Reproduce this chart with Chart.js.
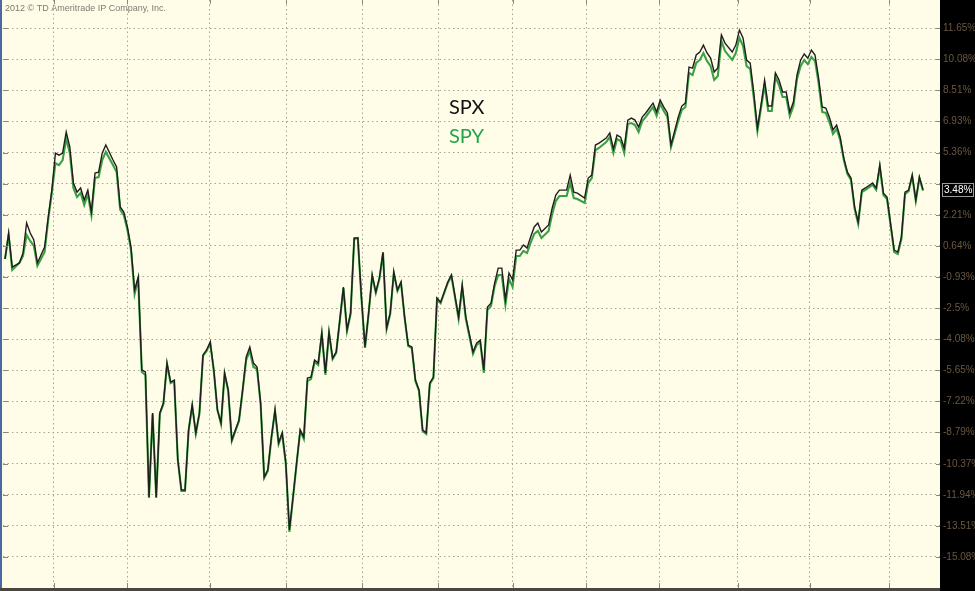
<!DOCTYPE html>
<html lang="en">
  <head>
    <meta charset="UTF-8" />
    <title>SPX vs SPY</title>
    <script src="https://cdn.jsdelivr.net/npm/chart.js"></script>
    <style>
      html,
      body {
        margin: 0;
        padding: 0;
        background: #fffde8;
      }
      canvas {
        display: block;
      }
    </style>
  </head>
  <body>
    <canvas id="chart" width="975" height="591"></canvas>
  </body>
  <script>
    // trading day index (from start of period)
    const days = [
      0, 1, 2, 4, 5, 6, 7, 8, 9, 11,
      12, 13, 14, 15, 16, 17, 18, 19, 20, 21,
      22, 23, 24, 25, 26, 27, 28, 30, 31, 32,
      33, 34, 35, 36, 37, 38, 39, 40, 41, 42,
      43, 44, 45, 46, 47, 48, 49, 50, 51, 52,
      53, 54, 55, 56, 57, 58, 59, 60, 61, 62,
      63, 64, 65, 66, 67, 68, 69, 70, 71, 72,
      73, 74, 75, 76, 77, 78, 79, 80, 81, 82,
      83, 84, 85, 86, 87, 88, 89, 90, 91, 92,
      93, 94, 95, 96, 97, 98, 99, 100, 101, 102,
      103, 104, 105, 106, 107, 108, 109, 110, 111, 112,
      113, 114, 115, 116, 117, 118, 119, 120, 121, 123,
      124, 126, 127, 128, 130, 131, 132, 133, 134, 135,
      136, 137, 138, 139, 140, 141, 142, 143, 144, 145,
      146, 147, 148, 149, 151, 152, 153, 154, 156, 157,
      158, 159, 161, 162, 163, 164, 165, 167, 168, 169,
      170, 171, 172, 173, 174, 175, 176, 177, 178, 179,
      180, 181, 182, 183, 184, 185, 187, 188, 189, 190,
      191, 192, 193, 194, 195, 196, 197, 198, 199, 200,
      202, 203, 204, 205, 206, 207, 208, 209, 210, 211,
      212, 213, 214, 215, 216, 217, 218, 219, 220, 221,
      222, 223, 224, 225, 226, 227, 228, 229, 230, 231,
      232, 233, 234, 235, 236, 237, 238, 239, 241, 242,
      243, 244, 245, 247, 248, 249, 250, 251, 252, 253,
      254, 255,
    ];

    // % change
    const spx = [
      -0.02, 1.29, -0.43, -0.22, 0.28, 1.8, 1.29, 0.94, -0.22, 0.58,
      2.1, 3.46, 5.33, 5.23, 5.33, 6.4, 5.64, 3.82, 3.36, 3.57,
      2.96, 3.46, 2.35, 4.32, 4.37, 5.33, 5.74, 4.98, 4.63, 2.61,
      2.35, 1.6, 0.58, -1.59, -0.93, -5.63, -5.73, -12.05, -7.8, -12.05,
      -7.8, -7.3, -5.28, -6.24, -6.14, -10.18, -11.7, -11.7, -8.66, -7.4,
      -8.81, -7.8, -4.87, -4.62, -4.22, -5.63, -7.65, -8.31, -5.78, -6.64,
      -9.17, -8.66, -8.16, -6.64, -4.97, -4.47, -5.28, -5.48, -7.3, -11.04,
      -10.68, -9.02, -7.65, -9.32, -8.81, -10.33, -13.72, -12.05, -10.33, -8.66,
      -9.02, -6.04, -5.99, -5.13, -5.28, -3.76, -5.78, -3.71, -5.03, -4.72,
      -3.1, -1.44, -3.61, -2.75, 1.04, 1.04, -1.94, -4.47, -2.75, -0.83,
      -1.69, -0.98, 0.33, -3.51, -2.75, -0.68, -1.59, -1.18, -2.95, -4.37,
      -4.47, -6.14, -6.64, -8.66, -8.81, -6.29, -5.99, -1.99, -2.2, -1.18,
      -0.83, -2.95, -1.34, -2.95, -4.72, -4.27, -4.12, -5.63, -2.45, -2.25,
      -1.24, -0.48, -0.48, -2.09, -0.73, -1.08, 0.43, 0.43, 0.69, 0.53,
      1.09, 1.6, 1.8, 1.34, 1.7, 2.56, 3.21, 3.46, 3.46, 4.22,
      3.36, 3.31, 3.06, 4.07, 4.22, 5.74, 5.84, 6.09, 6.35, 5.54,
      6.24, 6.14, 5.59, 7.0, 7.1, 7.0, 6.65, 7.15, 7.36, 7.61,
      7.86, 7.41, 8.01, 7.66, 7.36, 5.74, 7.15, 7.71, 7.86, 9.68,
      9.63, 10.29, 10.44, 10.79, 10.39, 10.13, 9.43, 9.63, 11.3, 10.89,
      10.44, 10.79, 11.55, 11.15, 10.03, 9.88, 8.37, 6.6, 7.76, 9.02,
      7.71, 7.71, 9.38, 9.02, 8.42, 8.42, 7.41, 7.91, 9.28, 10.03,
      10.34, 10.13, 10.54, 10.29, 9.12, 7.66, 7.61, 7.15, 6.5, 6.75,
      6.14, 5.08, 4.37, 4.07, 2.61, 1.85, 3.46, 3.57, 3.82, 3.57,
      4.73, 3.31, 3.11, 0.43, 0.33, 1.09, 3.36, 3.46, 4.22, 2.96,
      4.12, 3.48,
    ];

    const spy = [
      -0.02, 1.19, -0.58, -0.22, 0.13, 1.19, 0.89, 0.64, -0.37, 0.33,
      1.95, 3.31, 4.82, 4.72, 4.98, 6.05, 5.34, 3.57, 3.11, 3.32,
      2.71, 3.26, 2.2, 4.07, 4.12, 4.98, 5.39, 4.73, 4.38, 2.46,
      2.2, 1.45, 0.43, -1.79, -1.03, -5.73, -5.88, -12.1, -7.85, -12.1,
      -7.85, -7.35, -5.33, -6.29, -6.19, -10.18, -11.75, -11.75, -8.71, -7.45,
      -8.86, -7.85, -4.92, -4.67, -4.27, -5.68, -7.65, -8.36, -5.83, -6.69,
      -9.22, -8.71, -8.21, -6.69, -5.12, -4.67, -5.48, -5.58, -7.35, -11.09,
      -10.73, -9.07, -7.7, -9.37, -8.86, -10.38, -13.82, -12.1, -10.38, -8.71,
      -9.12, -6.19, -6.09, -5.23, -5.38, -3.81, -5.88, -3.76, -5.08, -4.77,
      -3.15, -1.49, -3.66, -2.8, 0.99, 1.04, -1.99, -4.52, -2.8, -0.88,
      -1.74, -1.03, 0.28, -3.56, -2.8, -0.73, -1.64, -1.23, -3.0, -4.42,
      -4.52, -6.19, -6.69, -8.71, -8.86, -6.34, -6.04, -2.04, -2.25, -1.23,
      -0.88, -3.05, -1.44, -3.05, -4.82, -4.37, -4.22, -5.78, -2.6, -2.4,
      -1.39, -0.83, -0.83, -2.34, -1.03, -1.43, 0.13, 0.13, 0.39, 0.28,
      0.79, 1.25, 1.4, 1.04, 1.4, 2.26, 2.91, 3.16, 3.16, 3.82,
      3.06, 3.01, 2.81, 3.82, 4.07, 5.49, 5.59, 5.89, 6.15, 5.34,
      6.04, 5.94, 5.34, 6.8, 6.85, 6.75, 6.4, 6.95, 7.16, 7.41,
      7.66, 7.21, 7.81, 7.46, 7.16, 5.64, 6.95, 7.51, 7.66, 9.38,
      9.28, 9.89, 10.04, 10.39, 9.99, 9.73, 9.03, 9.23, 11.0, 10.49,
      10.04, 10.39, 11.15, 10.75, 9.73, 9.58, 8.12, 6.45, 7.61, 8.77,
      7.46, 7.46, 9.18, 8.77, 8.17, 8.17, 7.21, 7.71, 9.08, 9.73,
      10.04, 9.83, 10.19, 9.99, 8.87, 7.41, 7.36, 6.9, 6.3, 6.55,
      5.99, 4.98, 4.27, 3.97, 2.51, 1.75, 3.36, 3.47, 3.72, 3.47,
      4.63, 3.21, 3.01, 0.33, 0.23, 0.99, 3.26, 3.41, 4.17, 2.91,
      4.07, 3.43,
    ];

    // month boundaries (trading days)
    const monthTicks = [13.6, 33.9, 56.9, 78.1, 99.2, 120.3, 141.1, 161.4, 181.7, 203.6, 223.6, 245.6];

    const yTicks = [
      11.65, 10.08, 8.51, 6.93, 5.36, 3.79, 2.21, 0.64, -0.93, -2.5,
      -4.08, -5.65, -7.22, -8.79, -10.37, -11.94, -13.51, -15.08,
    ];

    const seriesNames = ["SPX", "SPY"];
    const copyright = "2012 \u00a9 TD Ameritrade IP Company, Inc.";
    const lastValue = spx[spx.length - 1];

    const decor = {
      id: "decor",
      beforeDraw(chart) {
        const { ctx, width, height, chartArea: a } = chart;
        ctx.save();
        ctx.fillStyle = "#fffde8";
        ctx.fillRect(0, 0, width, height);
        ctx.fillStyle = "#000";
        ctx.fillRect(a.right, 0, width - a.right, height);
        ctx.fillStyle = "#4a68a6";
        ctx.fillRect(0, 0, 2, height);
        ctx.restore();
      },
      afterDraw(chart) {
        const { ctx, width, height, chartArea: a, scales } = chart;
        ctx.save();

        // bottom border
        ctx.fillStyle = "#4b4640";
        ctx.fillRect(0, a.bottom, a.right, height - a.bottom);

        // small solid ticks on the grid lines
        ctx.strokeStyle = "#8a877c";
        ctx.lineWidth = 1;
        ctx.beginPath();
        monthTicks.forEach((d) => {
          const x = Math.round(scales.x.getPixelForValue(d)) + 0.5;
          ctx.moveTo(x, a.top);
          ctx.lineTo(x, a.top + 4);
          ctx.moveTo(x, a.bottom - 5);
          ctx.lineTo(x, a.bottom);
        });
        yTicks.forEach((v) => {
          const y = Math.round(scales.y.getPixelForValue(v)) + 0.5;
          ctx.moveTo(a.left, y);
          ctx.lineTo(a.left + 5, y);
          ctx.moveTo(a.right - 4, y);
          ctx.lineTo(a.right, y);
        });
        ctx.stroke();

        // copyright
        ctx.fillStyle = "#7d7b72";
        ctx.font = '9px "Liberation Sans", Arial, sans-serif';
        ctx.textAlign = "left";
        ctx.textBaseline = "alphabetic";
        ctx.fillText(copyright, 5, 11);

        // series labels
        ctx.font = '20px Lato, "Open Sans", sans-serif';
        ctx.fillStyle = "#111";
        ctx.fillText(seriesNames[0], 449, 114);
        ctx.fillStyle = "#22a64a";
        ctx.fillText(seriesNames[1], 449, 143);

        // last value box
        const yv = scales.y.getPixelForValue(lastValue);
        ctx.fillStyle = "#000";
        ctx.fillRect(a.right + 2, yv - 6.5, width - a.right - 3, 13);
        ctx.strokeStyle = "#9a9a9a";
        ctx.strokeRect(a.right + 2.5, Math.round(yv - 6.5) + 0.5, width - a.right - 4, 13);
        ctx.fillStyle = "#fff";
        ctx.font = '10px "Liberation Sans", Arial, sans-serif';
        ctx.textBaseline = "middle";
        ctx.fillText(lastValue.toFixed(2) + "%", a.right + 4, Math.round(yv - 6.5) + 7);

        ctx.restore();
      },
    };

    const chart = new Chart(document.getElementById("chart"), {
      type: "line",
      data: {
        datasets: [
          {
            label: seriesNames[0],
            data: days.map((d, i) => ({ x: d, y: spx[i] })),
            borderColor: "#1e1e1e",
            borderWidth: 1.4,
            pointRadius: 0,
            tension: 0,
          },
          {
            label: seriesNames[1],
            data: days.map((d, i) => ({ x: d, y: spy[i] })),
            borderColor: "#3aa044",
            borderWidth: 2.1,
            pointRadius: 0,
            tension: 0,
          },
        ],
      },
      options: {
        responsive: false,
        animation: false,
        events: [],
        layout: { padding: { left: 3, top: 0, right: 0, bottom: 0 } },
        plugins: {
          legend: { display: false },
          tooltip: { enabled: false },
        },
        scales: {
          x: {
            type: "linear",
            min: -0.56,
            max: 259.72,
            afterBuildTicks: (s) => {
              s.ticks = monthTicks.map((v) => ({ value: v }));
            },
            afterFit: (s) => {
              s.height = 3;
            },
            ticks: { display: false },
            grid: { color: "#a8a494", lineWidth: 1, drawTicks: false },
            border: { display: false, dash: [1.5, 3] },
          },
          y: {
            position: "right",
            min: -16.65,
            max: 13.07,
            afterBuildTicks: (s) => {
              s.ticks = yTicks.map((v) => ({ value: v }));
            },
            afterFit: (s) => {
              s.width = 35;
              s.paddingTop = 0;
              s.paddingBottom = 0;
            },
            ticks: {
              autoSkip: false,
              padding: 3,
              crossAlign: "near",
              color: "#6a5840",
              font: { size: 10, family: '"Liberation Sans", Arial, sans-serif' },
              callback: (v) => (Math.abs(v - lastValue) < 0.6 ? "" : v + "%"),
            },
            grid: { color: "#a8a494", lineWidth: 1, drawTicks: false },
            border: { display: false, dash: [1.5, 3] },
          },
        },
      },
      plugins: [decor],
    });
  </script>
</html>
